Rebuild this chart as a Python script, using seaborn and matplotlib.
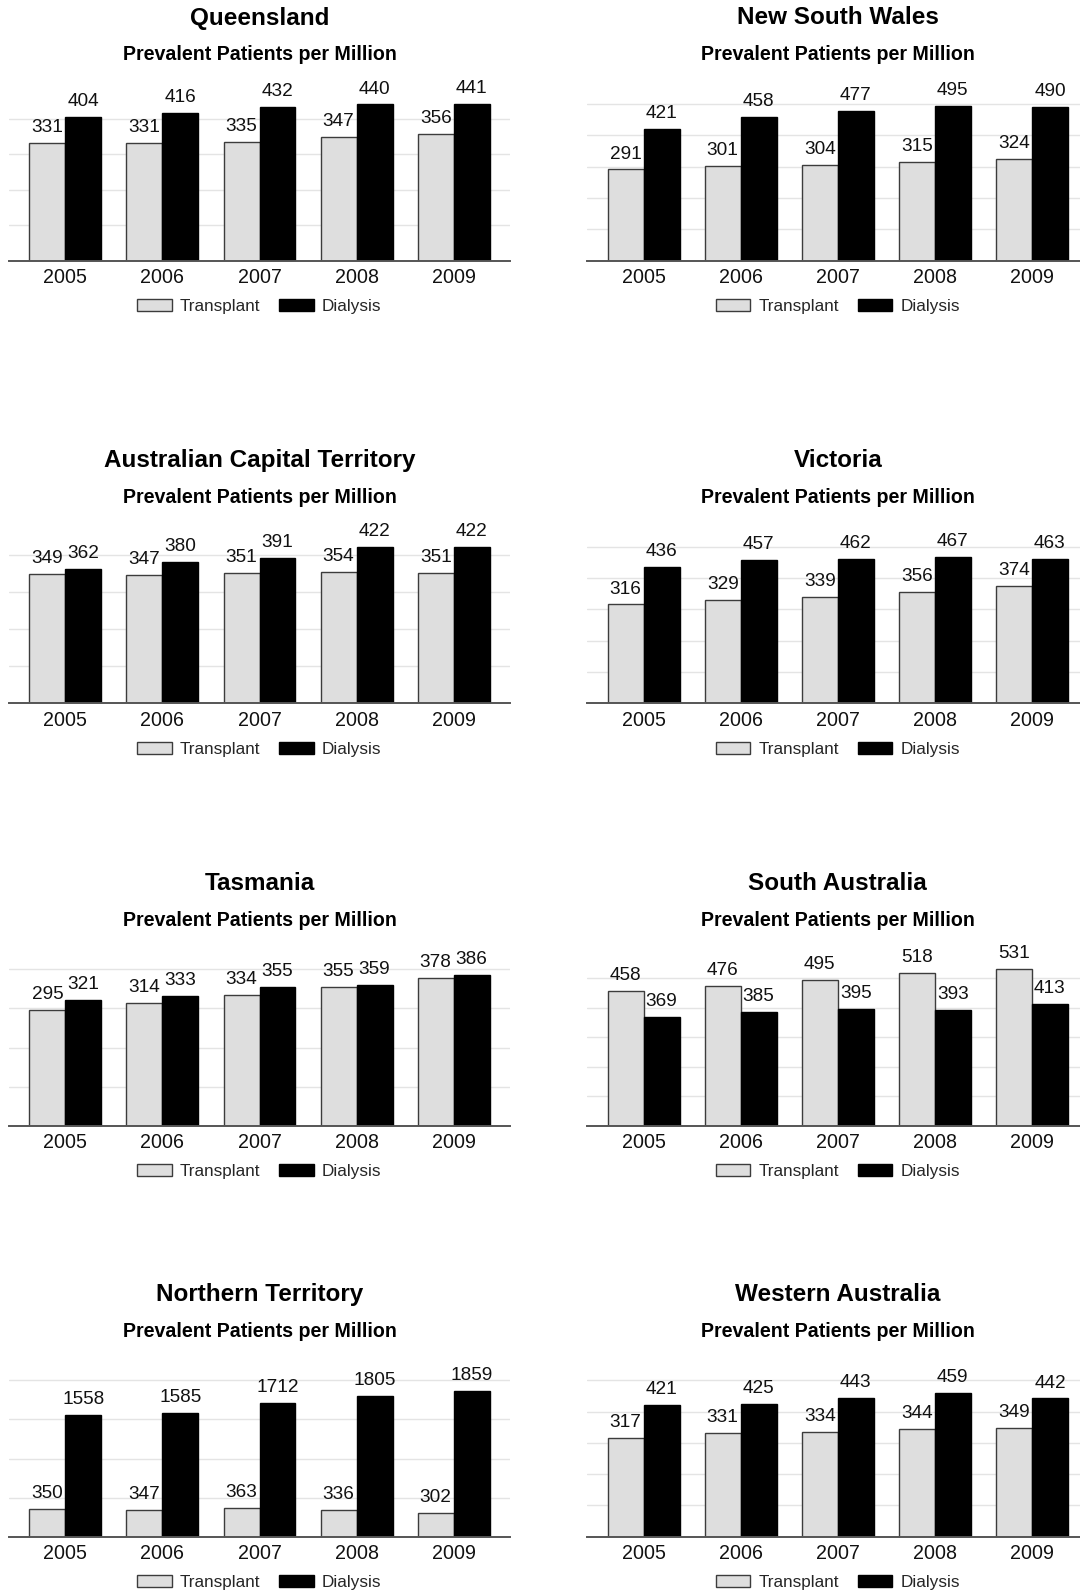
import matplotlib
matplotlib.use("Agg")
import matplotlib.pyplot as plt
from matplotlib.patches import Patch
import numpy as np
import pandas as pd
import seaborn as sns

# ---- data: prevalent patients per million, by state/territory ----
years = ["2005", "2006", "2007", "2008", "2009"]
series_names = ["Transplant", "Dialysis"]

regions = [
    "Queensland", "New South Wales",
    "Australian Capital Territory", "Victoria",
    "Tasmania", "South Australia",
    "Northern Territory", "Western Australia",
]

qld_transplant = [331, 331, 335, 347, 356]
qld_dialysis = [404, 416, 432, 440, 441]
nsw_transplant = [291, 301, 304, 315, 324]
nsw_dialysis = [421, 458, 477, 495, 490]
act_transplant = [349, 347, 351, 354, 351]
act_dialysis = [362, 380, 391, 422, 422]
vic_transplant = [316, 329, 339, 356, 374]
vic_dialysis = [436, 457, 462, 467, 463]
tas_transplant = [295, 314, 334, 355, 378]
tas_dialysis = [321, 333, 355, 359, 386]
sa_transplant = [458, 476, 495, 518, 531]
sa_dialysis = [369, 385, 395, 393, 413]
nt_transplant = [350, 347, 363, 336, 302]
nt_dialysis = [1558, 1585, 1712, 1805, 1859]
wa_transplant = [317, 331, 334, 344, 349]
wa_dialysis = [421, 425, 443, 459, 442]

transplant_values = [qld_transplant, nsw_transplant, act_transplant, vic_transplant,
                     tas_transplant, sa_transplant, nt_transplant, wa_transplant]
dialysis_values = [qld_dialysis, nsw_dialysis, act_dialysis, vic_dialysis,
                   tas_dialysis, sa_dialysis, nt_dialysis, wa_dialysis]

# value-axis upper limits and gridline spacing for each panel
axis_tops = [485, 550, 464, 550, 440, 584, 2200, 550]
grid_steps = [100, 100, 100, 100, 100, 100, 500, 100]

# ---- styling ----
sns.set_theme(style="white")
plt.rcParams["font.family"] = ["Liberation Sans", "DejaVu Sans"]

LIGHT = "#dedede"
DARK = "#000000"
palette = {"Transplant": LIGHT, "Dialysis": DARK}
edge_colors = {"Transplant": "#3c3c3c", "Dialysis": "#000000"}

W, H = 1080, 1593
fig = plt.figure(figsize=(W / 100, H / 100), dpi=100)
fig.patch.set_facecolor("white")

# panel geometry in pixels
col_left = [9, 587.3]
ax_width = 501
ax_height = 172
row_baseline = [260.5, 703.3, 1125.7, 1536.7]

for i, region in enumerate(regions):
    row, col = divmod(i, 2)
    base = row_baseline[row]
    left = col_left[col]
    ax = fig.add_axes([left / W, 1 - base / H, ax_width / W, ax_height / H])

    df = pd.DataFrame({
        "Year": years * 2,
        "Value": transplant_values[i] + dialysis_values[i],
        "Type": [series_names[0]] * len(years) + [series_names[1]] * len(years),
    })
    sns.barplot(data=df, x="Year", y="Value", hue="Type", hue_order=series_names,
                palette=palette, saturation=1, width=0.74, errorbar=None,
                linewidth=1.0, legend=False, ax=ax)

    for name, cont in zip(series_names, ax.containers):
        for bar in cont:
            bar.set_edgecolor(edge_colors[name])
            bar.set_linewidth(1.0)
        ax.bar_label(cont, fmt="%d", padding=5, fontsize=13.7, color="#111111")

    ax.set_xlim(-0.58, 4.58)
    ax.set_ylim(0, axis_tops[i])
    ax.set_yticks(np.arange(0, axis_tops[i] + 1, grid_steps[i]))
    ax.set_yticklabels([])
    ax.yaxis.grid(True, color="#e4e4e4", linewidth=1.0)
    ax.set_axisbelow(True)
    ax.set_xlabel("")
    ax.set_ylabel("")
    ax.tick_params(axis="x", length=0, pad=5.5, labelsize=14.1, colors="#111111")
    ax.tick_params(axis="y", length=0)
    for side in ["top", "left", "right"]:
        ax.spines[side].set_visible(False)
    ax.spines["bottom"].set_color("#555555")
    ax.spines["bottom"].set_linewidth(1.4)
    ax.set_facecolor("none")

    handles = [Patch(facecolor=palette[n], edgecolor=edge_colors[n], linewidth=1.0)
               for n in series_names]
    ax.legend(handles, series_names, loc="center", bbox_to_anchor=(0.5, -46 / ax_height),
              ncol=2, frameon=False, fontsize=12.3, handlelength=2.0, handleheight=0.71,
              handletextpad=0.5, columnspacing=1.1, borderpad=0, borderaxespad=0)

    cx = (left + ax_width / 2) / W
    fig.text(cx, 1 - (base - 236) / H, region, ha="center", va="baseline",
             fontsize=17.5, fontweight="bold", color="#000000")
    fig.text(cx, 1 - (base - 200) / H, "Prevalent Patients per Million", ha="center",
             va="baseline", fontsize=14.1, fontweight="bold", color="#000000")

fig.savefig("out.png", dpi=100, facecolor="white")
